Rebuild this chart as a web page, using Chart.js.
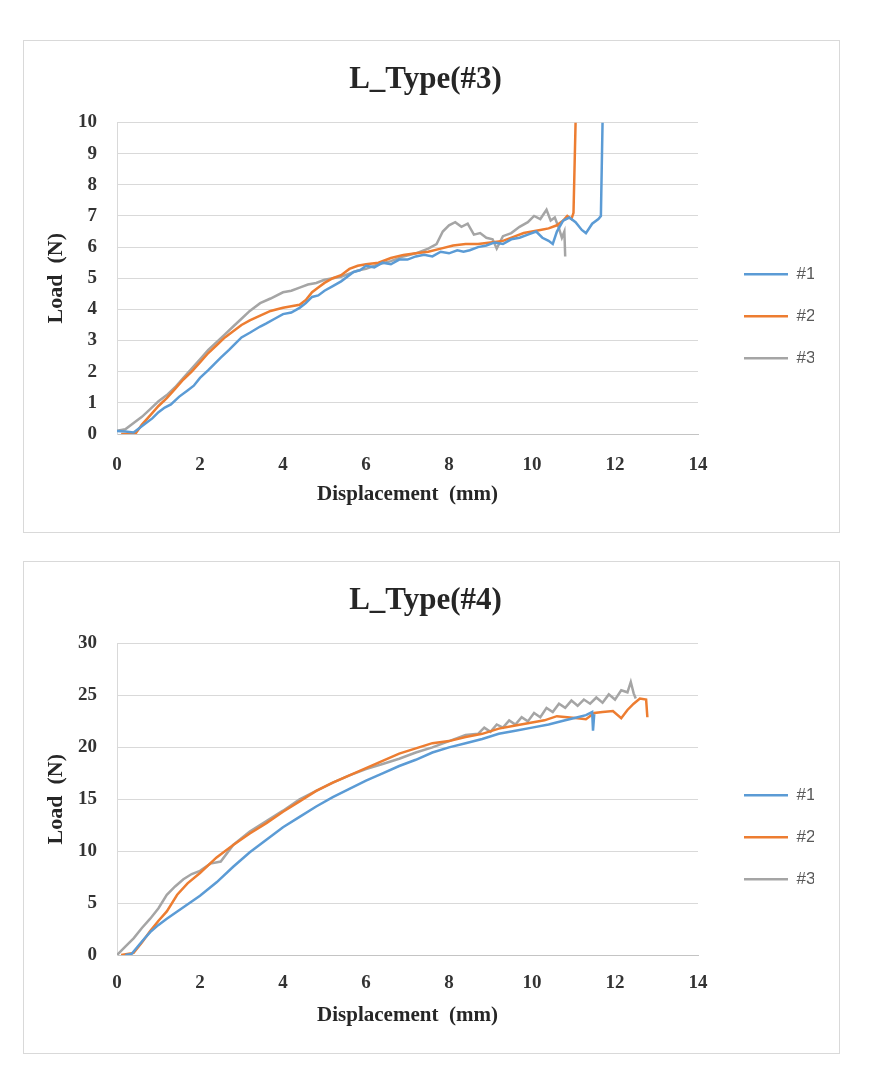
<!DOCTYPE html>
<html><head><meta charset="utf-8">
<script src="https://cdn.jsdelivr.net/npm/chart.js@4.4.1/dist/chart.umd.min.js"></script>
<style>
html,body{margin:0;padding:0;background:#fff;width:884px;height:1065px;overflow:hidden}
.box{position:absolute;left:23px;width:817px;height:493px;border:1px solid #d9d9d9;box-sizing:border-box;background:#fff}
#b1{top:40px}#b2{top:561px}
canvas{display:block}
</style></head><body>
<div class="box" id="b1"><canvas id="c1" width="815" height="491" style="width:815px;height:491px"></canvas></div>
<div class="box" id="b2"><canvas id="c2" width="815" height="491" style="width:815px;height:491px"></canvas></div>
<script>
// ---------- Data ----------
const seriesNames = ['#1', '#2', '#3'];
const xTickLabels = [0, 2, 4, 6, 8, 10, 12, 14];
const yTickLabels3 = [0, 1, 2, 3, 4, 5, 6, 7, 8, 9, 10];
const yTickLabels4 = [0, 5, 10, 15, 20, 25, 30];

// L_Type(#3)
const t3_x1 = [0,0.2,0.4,0.55,0.7,0.85,1.0,1.15,1.3,1.5,1.7,1.85,2.0,2.2,2.35,2.5,2.7,2.85,3.0,3.2,3.45,3.6,3.8,4.0,4.2,4.4,4.55,4.7,4.85,5.0,5.2,5.4,5.55,5.7,5.85,6.0,6.2,6.4,6.6,6.8,7.0,7.2,7.4,7.6,7.8,8.0,8.2,8.35,8.5,8.7,8.9,9.1,9.3,9.5,9.7,9.9,10.1,10.25,10.4,10.5,10.6,10.75,10.9,11.05,11.2,11.3,11.45,11.6,11.66,11.7];
const t3_y1 = [0.1,0.08,0.05,0.2,0.35,0.5,0.7,0.85,0.95,1.2,1.4,1.55,1.8,2.05,2.25,2.45,2.7,2.9,3.1,3.25,3.45,3.55,3.7,3.85,3.9,4.05,4.2,4.4,4.45,4.6,4.75,4.9,5.05,5.2,5.25,5.4,5.35,5.5,5.45,5.6,5.6,5.7,5.75,5.7,5.85,5.8,5.9,5.85,5.9,6.0,6.05,6.15,6.1,6.25,6.3,6.4,6.5,6.3,6.2,6.1,6.5,6.85,6.95,6.8,6.55,6.45,6.75,6.9,7.0,10];
const t3_x2 = [0.1,0.25,0.45,0.6,0.8,1.0,1.2,1.4,1.6,1.8,2.0,2.2,2.4,2.6,2.8,3.0,3.2,3.45,3.7,4.0,4.2,4.4,4.55,4.7,4.85,5.0,5.2,5.4,5.6,5.8,6.0,6.3,6.6,6.9,7.2,7.5,7.8,8.1,8.4,8.7,9.0,9.3,9.6,9.8,10.0,10.2,10.4,10.6,10.75,10.85,10.95,11.0,11.05];
const t3_y2 = [0.0,0.0,0.02,0.3,0.6,0.9,1.15,1.45,1.75,2.0,2.3,2.6,2.85,3.1,3.3,3.5,3.65,3.8,3.95,4.05,4.1,4.15,4.3,4.55,4.7,4.85,5.0,5.1,5.3,5.4,5.45,5.5,5.65,5.75,5.8,5.85,5.95,6.05,6.1,6.1,6.15,6.2,6.35,6.45,6.5,6.55,6.6,6.7,6.85,7.0,6.9,7.1,10];
const t3_x3 = [0,0.2,0.4,0.6,0.8,1.0,1.2,1.4,1.6,1.8,2.0,2.2,2.4,2.6,2.8,3.0,3.2,3.45,3.7,4.0,4.2,4.4,4.6,4.8,5.0,5.2,5.4,5.6,5.8,6.0,6.3,6.6,6.9,7.2,7.5,7.7,7.85,8.0,8.15,8.3,8.45,8.6,8.75,8.9,9.05,9.15,9.3,9.5,9.7,9.9,10.05,10.2,10.35,10.45,10.55,10.65,10.72,10.78,10.8];
const t3_y3 = [0.1,0.15,0.35,0.55,0.8,1.05,1.25,1.5,1.8,2.1,2.4,2.7,2.95,3.2,3.45,3.7,3.95,4.2,4.35,4.55,4.6,4.7,4.8,4.85,4.95,5.0,5.05,5.15,5.25,5.3,5.45,5.55,5.7,5.8,5.95,6.1,6.5,6.7,6.8,6.65,6.75,6.4,6.45,6.3,6.25,5.95,6.35,6.45,6.65,6.8,7.0,6.9,7.2,6.85,6.95,6.6,6.3,6.5,5.7];

// L_Type(#4)
const t4_x1 = [0.2,0.35,0.6,0.8,1.0,1.2,1.6,2.0,2.4,2.8,3.2,3.6,4.0,4.4,4.8,5.2,5.6,6.0,6.4,6.8,7.2,7.6,8.0,8.4,8.8,9.2,9.6,10.0,10.4,10.8,11.1,11.3,11.45,11.47,11.5];
const t4_y1 = [0,0.1,1.3,2.2,2.9,3.5,4.6,5.7,7.0,8.5,9.9,11.1,12.3,13.3,14.3,15.2,16.0,16.8,17.5,18.2,18.8,19.5,20.0,20.4,20.8,21.3,21.6,21.9,22.2,22.6,22.9,23.1,23.4,21.6,23.2];
const t4_x2 = [0.1,0.4,0.6,0.8,1.0,1.2,1.45,1.7,2.0,2.4,2.8,3.2,3.6,4.0,4.4,4.8,5.2,5.6,6.0,6.4,6.8,7.2,7.6,8.0,8.4,8.8,9.2,9.6,10.0,10.3,10.6,10.85,11.1,11.3,11.5,11.7,11.95,12.15,12.3,12.45,12.6,12.75,12.78];
const t4_y2 = [0,0.2,1.2,2.3,3.3,4.2,5.8,6.9,7.9,9.4,10.6,11.7,12.7,13.8,14.8,15.8,16.6,17.3,18.0,18.7,19.4,19.9,20.4,20.6,21.0,21.3,21.8,22.1,22.4,22.6,23.0,22.9,22.8,22.7,23.3,23.4,23.5,22.8,23.6,24.2,24.7,24.6,22.9];
const t4_x3 = [0,0.2,0.4,0.6,0.8,1.0,1.2,1.4,1.6,1.8,2.0,2.25,2.5,2.8,3.2,3.6,4.0,4.4,4.8,5.2,5.6,6.0,6.4,6.8,7.2,7.6,8.0,8.4,8.7,8.85,9.0,9.15,9.3,9.45,9.6,9.75,9.9,10.05,10.2,10.35,10.5,10.65,10.8,10.95,11.1,11.25,11.4,11.55,11.7,11.85,12.0,12.15,12.3,12.38,12.45,12.5];
const t4_y3 = [0,0.8,1.6,2.6,3.5,4.5,5.8,6.6,7.3,7.8,8.1,8.8,9.0,10.6,11.9,12.9,13.9,15.0,15.8,16.6,17.3,17.9,18.4,18.9,19.5,20.0,20.6,21.2,21.3,21.9,21.5,22.2,21.9,22.6,22.2,22.9,22.5,23.3,22.9,23.8,23.4,24.2,23.8,24.5,24.0,24.6,24.2,24.8,24.3,25.1,24.6,25.5,25.3,26.3,25.2,24.7];

// ---------- Styling ----------
const colors = ['#5B9BD5', '#ED7D31', '#A5A5A5'];
const serif = 'Liberation Serif';
const textDark = '#262626';

function makeChart(id, title, xs, ys, yTicks, xTickPad) {
  const datasets = seriesNames.map((n, i) => ({
    label: n,
    data: xs[i].map((x, j) => ({x: x, y: ys[i][j]})),
    borderColor: colors[i],
    backgroundColor: colors[i],
    borderWidth: 2.5,
    pointRadius: 0,
    pointHoverRadius: 0,
    showLine: true,
    tension: 0,
    fill: false,
    xAxisID: 'x',
    yAxisID: 'y'
  }));
  const yMax = yTicks[yTicks.length - 1];
  return new Chart(document.getElementById(id), {
    type: 'scatter',
    data: {datasets},
    options: {
      responsive: false,
      animation: false,
      devicePixelRatio: 1,
      layout: {padding: {left: 0, right: 12, top: 0, bottom: 0}},
      plugins: {
        title: {
          display: true, text: title, color: textDark,
          font: {family: serif, size: 31, weight: 'bold'},
          padding: {top: 20.5, bottom: 23.8}
        },
        legend: {
          position: 'right',
          maxWidth: 95,
          title: {display: true, text: ' ', font: {size: 12}, padding: {top: 45, bottom: 0}},
          labels: {
            usePointStyle: true, pointStyle: 'line', pointStyleWidth: 44,
            padding: 25, color: '#595959',
            font: {family: 'Liberation Sans', size: 17}
          }
        },
        tooltip: {enabled: false}
      },
      scales: {
        x: {
          type: 'linear', position: 'bottom',
          min: xTickLabels[0], max: xTickLabels[xTickLabels.length - 1],
          afterBuildTicks: s => { s.ticks = xTickLabels.map(v => ({value: v})); },
          ticks: {padding: xTickPad, color: '#333', font: {family: serif, size: 19, weight: 'bold'}},
          grid: {display: false, drawTicks: false},
          border: {display: true, color: '#c4c4c4', width: 1},
          title: {display: true, text: 'Displacement  (mm)', color: textDark,
                  font: {family: serif, size: 21, weight: 'bold'}, padding: {top: 0, bottom: 25}},
          afterFit: s => { s.height = 98; }
        },
        y: {
          type: 'linear', position: 'left',
          min: 0, max: yMax,
          afterBuildTicks: s => { s.ticks = yTicks.map(v => ({value: v})); },
          ticks: {padding: 20, color: '#333', font: {family: serif, size: 19, weight: 'bold'}},
          grid: {color: '#d9d9d9', lineWidth: 1, drawTicks: false},
          border: {display: true, color: '#d9d9d9', width: 1},
          title: {display: true, text: 'Load  (N)', color: textDark,
                  font: {family: serif, size: 22, weight: 'bold'}, padding: {top: 19, bottom: 0}},
          afterFit: s => { s.width = 93; }
        },
        padIn: {
          type: 'linear', axis: 'y', position: 'right', weight: 0,
          ticks: {display: false}, grid: {display: false, drawTicks: false}, border: {display: false},
          afterFit: s => { s.width = 21; }
        },
        padOut: {
          type: 'linear', axis: 'y', position: 'right', weight: 2000,
          ticks: {display: false}, grid: {display: false, drawTicks: false}, border: {display: false},
          afterFit: s => { s.width = 13; }
        }
      }
    }
  });
}

makeChart('c1', 'L_Type(#3)', [t3_x1, t3_x2, t3_x3], [t3_y1, t3_y2, t3_y3], yTickLabels3, 20);
makeChart('c2', 'L_Type(#4)', [t4_x1, t4_x2, t4_x3], [t4_y1, t4_y2, t4_y3], yTickLabels4, 17);
</script>
</body></html>
